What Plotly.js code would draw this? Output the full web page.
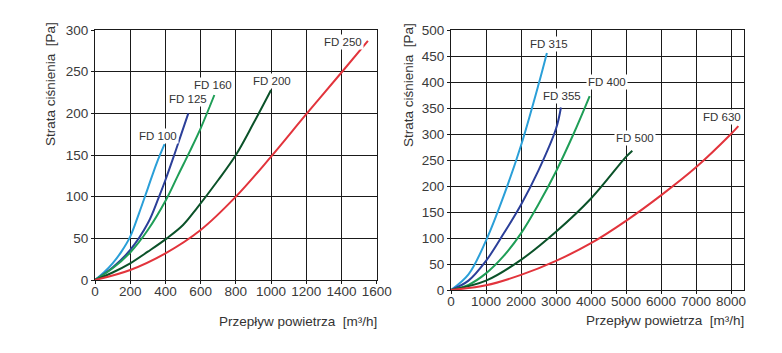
<!DOCTYPE html>
<html>
<head>
<meta charset="utf-8">
<script src="https://cdn.plot.ly/plotly-3.0.1.min.js"></script>
<style>html,body{margin:0;padding:0;background:#fff;}#chart{width:782px;height:353px;}</style>
</head>
<body>
<div id="chart"></div>
<script>
// Left chart data (flow m3/h, pressure loss Pa)
const fd100_x = [0, 50, 100, 150, 200, 250, 300, 350, 395];
const fd100_y = [0, 9, 20, 34, 52, 80, 110, 140, 163];
const fd125_x = [0, 100, 200, 300, 360, 400, 450, 490, 530];
const fd125_y = [0, 15, 36, 68, 98, 120, 150, 175, 200];
const fd160_x = [0, 100, 200, 300, 403, 470, 540, 600, 678];
const fd160_y = [0, 14, 33, 60, 96, 125, 155, 182, 222];
const fd200_x = [0, 100, 200, 300, 408, 500, 578, 700, 800, 900, 1000];
const fd200_y = [0, 9, 20, 34, 50, 66, 86, 120, 150, 188, 228];
const fd250_x = [0, 200, 400, 600, 800, 1000, 1200, 1400, 1550];
const fd250_y = [0, 12, 32, 60, 100, 148, 199, 249, 287];

// Right chart data
const fd315_x = [0, 500, 1000, 1500, 2000, 2500, 2740];
const fd315_y = [0, 30, 95, 180, 278, 395, 456];
const fd355_x = [0, 500, 1000, 1500, 2000, 2500, 3000, 3141];
const fd355_y = [0, 18, 56, 108, 164, 230, 310, 351];
const fd400_x = [0, 500, 1000, 1500, 2000, 2500, 3000, 3500, 3962];
const fd400_y = [0, 10, 32, 65, 109, 165, 228, 300, 373];
const fd500_x = [0, 1000, 2000, 3000, 4000, 5000, 5180];
const fd500_y = [0, 18, 58, 112, 176, 256, 268];
const fd630_x = [0, 1000, 2000, 3000, 4000, 5000, 6000, 7000, 8000, 8210];
const fd630_y = [0, 9, 29, 56, 90, 133, 182, 236, 300, 315];

const labelsLeft = ['FD 100', 'FD 125', 'FD 160', 'FD 200', 'FD 250'];
const labelsRight = ['FD 315', 'FD 355', 'FD 400', 'FD 500', 'FD 630'];
const yTitle = 'Strata ciśnienia  [Pa]';
const xTitle = 'Przepływ powietrza  [m³/h]';

const colors = ['#2a9fd8', '#2b3f99', '#1f9e57', '#0b5229', '#e2343c'];

function tr(x, y, c, xa, ya) {
  return {x: x, y: y, type: 'scatter', mode: 'lines', xaxis: xa, yaxis: ya,
    line: {color: c, width: 2, shape: 'spline', smoothing: 1}, hoverinfo: 'skip', showlegend: false};
}

const data = [
  tr(fd100_x, fd100_y, colors[0], 'x', 'y'),
  tr(fd125_x, fd125_y, colors[1], 'x', 'y'),
  tr(fd160_x, fd160_y, colors[2], 'x', 'y'),
  tr(fd200_x, fd200_y, colors[3], 'x', 'y'),
  tr(fd250_x, fd250_y, colors[4], 'x', 'y'),
  tr(fd315_x, fd315_y, colors[0], 'x2', 'y2'),
  tr(fd355_x, fd355_y, colors[1], 'x2', 'y2'),
  tr(fd400_x, fd400_y, colors[2], 'x2', 'y2'),
  tr(fd500_x, fd500_y, colors[3], 'x2', 'y2'),
  tr(fd630_x, fd630_y, colors[4], 'x2', 'y2')
];

const tickFont = {family: 'Liberation Sans, Arial, sans-serif', size: 13.5, color: '#3a3a3a'};
const gridC = '#1a1a1a';

function axisX(dom, range, dtick, anchor) {
  return {domain: dom, range: range, dtick: dtick, tick0: 0, anchor: anchor,
    showgrid: true, gridcolor: gridC, gridwidth: 1, zeroline: false,
    showline: true, linecolor: gridC, linewidth: 1, mirror: true,
    ticks: 'outside', ticklen: 3, tickcolor: gridC, tickfont: tickFont,
    ticklabelstandoff: -4, fixedrange: true};
}
function axisY(dom, range, dtick, anchor) {
  return {domain: dom, range: range, dtick: dtick, tick0: 0, anchor: anchor,
    showgrid: true, gridcolor: gridC, gridwidth: 1, zeroline: false,
    showline: true, linecolor: gridC, linewidth: 1, mirror: true,
    ticks: 'outside', ticklen: 3, tickcolor: gridC, tickfont: tickFont, fixedrange: true};
}

const labFont = {family: 'Liberation Sans, Arial, sans-serif', size: 11.5, color: '#333'};
function lab(text, x, y, xr, yr) {
  return {text: text, x: x, y: y, xref: xr, yref: yr, showarrow: false,
    font: labFont, bgcolor: '#ffffff', borderpad: 1, xanchor: 'center', yanchor: 'middle'};
}
const titleFont = {family: 'Liberation Sans, Arial, sans-serif', size: 13.5, color: '#333'};

const annotations = [
  lab(labelsLeft[0], 357, 173, 'x', 'y'),
  lab(labelsLeft[1], 528, 217, 'x', 'y'),
  lab(labelsLeft[2], 670, 234, 'x', 'y'),
  lab(labelsLeft[3], 1004, 239, 'x', 'y'),
  lab(labelsLeft[4], 1407, 286, 'x', 'y'),
  lab(labelsRight[0], 2800, 474, 'x2', 'y2'),
  lab(labelsRight[1], 3171, 373, 'x2', 'y2'),
  lab(labelsRight[2], 4457, 400, 'x2', 'y2'),
  lab(labelsRight[3], 5257, 293, 'x2', 'y2'),
  lab(labelsRight[4], 7734, 332, 'x2', 'y2'),
  {text: yTitle, textangle: -90, x: 50/782, y: (353-84)/353, xref: 'paper', yref: 'paper',
    showarrow: false, font: titleFont, xanchor: 'center', yanchor: 'middle'},
  {text: yTitle, textangle: -90, x: 408/782, y: (353-85)/353, xref: 'paper', yref: 'paper',
    showarrow: false, font: titleFont, xanchor: 'center', yanchor: 'middle'},
  {text: xTitle, x: 379/782, y: (353-321)/353, xref: 'paper', yref: 'paper',
    showarrow: false, font: titleFont, xanchor: 'right', yanchor: 'middle'},
  {text: xTitle, x: 746/782, y: (353-320)/353, xref: 'paper', yref: 'paper',
    showarrow: false, font: titleFont, xanchor: 'right', yanchor: 'middle'}
];

const layout = {
  width: 782, height: 353,
  margin: {l: 0, r: 0, t: 0, b: 0},
  paper_bgcolor: '#ffffff', plot_bgcolor: '#ffffff',
  showlegend: false,
  xaxis: axisX([95/782, 376.7/782], [0, 1600], 200, 'y'),
  yaxis: axisY([(353-280)/353, (353-30)/353], [0, 300], 50, 'x'),
  xaxis2: axisX([451/782, 744.3/782], [0, 8380], 1000, 'y2'),
  yaxis2: axisY([(353-290)/353, (353-30)/353], [0, 500], 50, 'x2'),
  annotations: annotations
};

Plotly.newPlot('chart', data, layout, {displayModeBar: false, staticPlot: true});
</script>
</body>
</html>
